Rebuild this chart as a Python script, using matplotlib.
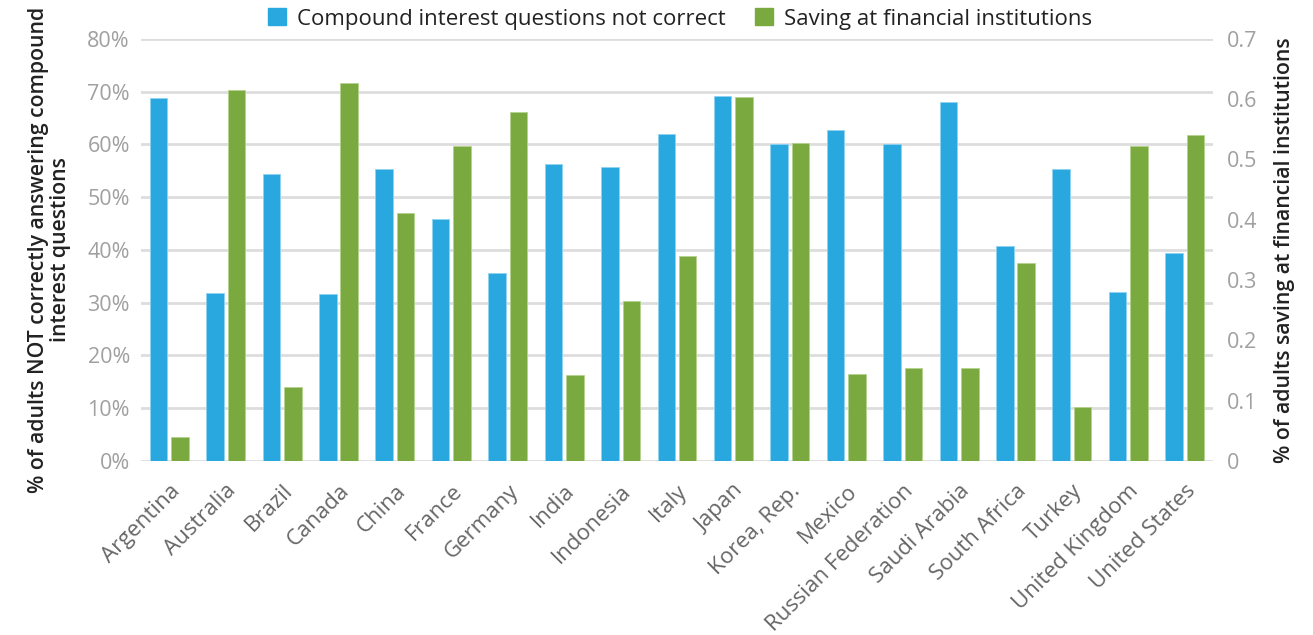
import matplotlib
matplotlib.use("Agg")
import matplotlib.pyplot as plt
import numpy as np
from matplotlib.patches import Patch
from matplotlib.ticker import FixedLocator

plt.rcParams["font.family"] = ["Open Sans", "DejaVu Sans"]

countries = ["Argentina", "Australia", "Brazil", "Canada", "China", "France",
             "Germany", "India", "Indonesia", "Italy", "Japan", "Korea, Rep.",
             "Mexico", "Russian Federation", "Saudi Arabia", "South Africa",
             "Turkey", "United Kingdom", "United States"]
# 左轴：复利题答错比例（%）
not_correct = [68.7, 31.8, 54.3, 31.6, 55.4, 45.8, 35.7, 56.2, 55.7, 61.9,
               69.1, 60.0, 62.7, 60.1, 68.0, 40.8, 55.4, 32.0, 39.4]
# 右轴：在金融机构储蓄比例
saving = [0.040, 0.615, 0.123, 0.626, 0.411, 0.522, 0.579, 0.143, 0.265, 0.340,
          0.604, 0.527, 0.144, 0.154, 0.155, 0.328, 0.090, 0.522, 0.541]

BLUE = "#29a8e0"
GREEN = "#7aa940"
GRID = "#dddddd"

fig = plt.figure(figsize=(13.13, 6.35), dpi=100)
ax = fig.add_axes([0.1074, 0.274, 0.8164, 0.665])
ax2 = ax.twinx()

x = np.arange(len(countries))
w = 0.31
ax.bar(x - 0.19, not_correct, width=w, color=BLUE, edgecolor="#8fd3f2",
       linewidth=0.6, zorder=3)
ax2.bar(x + 0.19, saving, width=w, color=GREEN, edgecolor="#b4d28e",
        linewidth=0.6, zorder=3)

ax.set_xlim(-0.5, len(countries) - 0.5)
ax.set_ylim(0, 80)
ax2.set_ylim(0, 0.7)

ax.yaxis.set_major_locator(FixedLocator(np.arange(0, 81, 10)))
ax.set_yticklabels([f"{v}%" for v in range(0, 81, 10)])
ax2.yaxis.set_major_locator(FixedLocator(np.arange(0, 0.71, 0.1)))
ax2.set_yticklabels(["0"] + [f"{v / 10:.1f}" for v in range(1, 8)])

ax.grid(axis="y", color=GRID, linewidth=2, zorder=0)
ax.set_axisbelow(True)
for a in (ax, ax2):
    for s in a.spines.values():
        s.set_visible(False)
    a.tick_params(length=0)
ax.tick_params(axis="y", labelsize=15.5, labelcolor="#a0a0a0", pad=8)
ax2.tick_params(axis="y", labelsize=15.5, labelcolor="#a0a0a0", pad=10)

ax.set_xticks(x)
ax.set_xticklabels(countries, rotation=45, ha="right", rotation_mode="anchor",
                   fontsize=16, color="#666666")
ax.tick_params(axis="x", pad=14)

ax.set_ylabel("% of adults NOT correctly answering compound\ninterest questions",
              fontsize=15.3, fontweight="semibold", color="#222222", labelpad=12,
              linespacing=1.05)
ax2.set_ylabel("% of adults saving at financial institutions",
               fontsize=15.3, fontweight="semibold", color="#222222", labelpad=12)

handles = [Patch(color=BLUE, label="Compound interest questions not correct"),
           Patch(color=GREEN, label="Saving at financial institutions")]
fig.legend(handles=handles, loc="center", bbox_to_anchor=(0.518, 0.97), ncol=2,
           frameon=False, fontsize=16, handlelength=0.8, handleheight=0.8,
           handletextpad=0.5, columnspacing=1.3, labelcolor="#222222")

fig.savefig("out.png", dpi=100)
